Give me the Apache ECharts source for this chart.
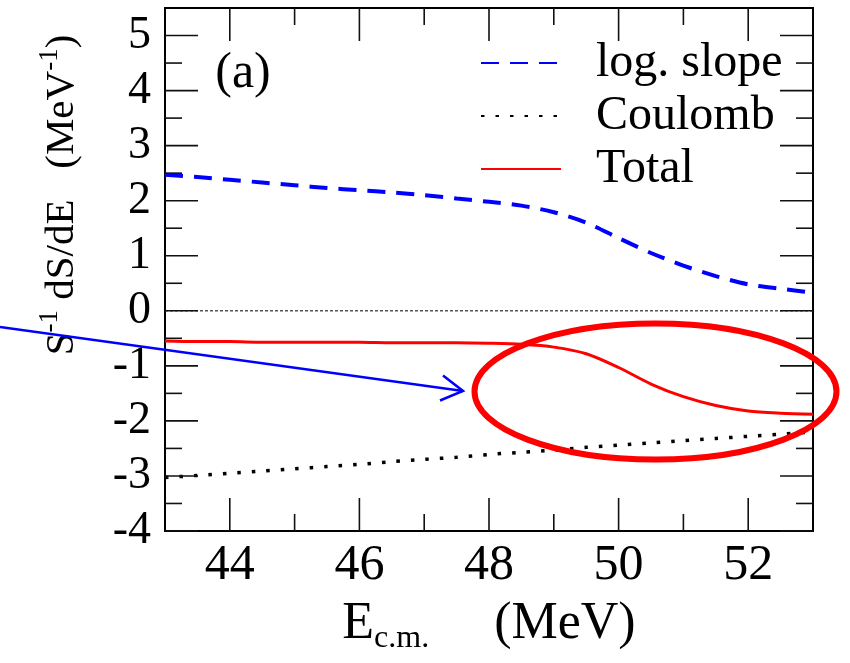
<!DOCTYPE html>
<html>
<head>
<meta charset="utf-8">
<script src="https://cdn.jsdelivr.net/npm/echarts@6/dist/echarts.min.js"></script>
<style>
  html, body { margin: 0; padding: 0; background: #fff; }
  #chart { width: 850px; height: 663px; }
</style>
</head>
<body>
<div id="chart"></div>
<script>
// Centre-of-mass energy grid (MeV)
const energy = [43, 43.5, 44, 44.5, 45, 45.5, 46, 46.5, 47, 47.5, 48,
                48.5, 49, 49.5, 50, 50.5, 51, 51.5, 52, 52.5, 53];
// S^-1 dS/dE contributions (MeV^-1)
const logSlope = [2.47, 2.43, 2.38, 2.33, 2.28, 2.23, 2.19, 2.15, 2.10, 2.04, 1.98,
                  1.91, 1.79, 1.60, 1.32, 1.05, 0.82, 0.63, 0.48, 0.40, 0.33];
const coulomb = [-3.03, -2.99, -2.95, -2.91, -2.87, -2.83, -2.79, -2.74, -2.70, -2.66, -2.61,
                 -2.57, -2.53, -2.48, -2.44, -2.40, -2.36, -2.32, -2.28, -2.24, -2.20];
const total = [-0.55, -0.56, -0.56, -0.57, -0.57, -0.57, -0.57, -0.58, -0.58, -0.58, -0.59,
               -0.61, -0.66, -0.78, -1.03, -1.33, -1.56, -1.72, -1.82, -1.86, -1.88];
// Zero reference line
const zeroEnergy = [43, 53];
const zeroValue = [0, 0];

// Tick positions
const xMajorTicks = [44, 46, 48, 50, 52];
const xMinorTicks = [45, 47, 49, 51];
const yMajorTicks = [-4, -3, -2, -1, 0, 1, 2, 3, 4, 5];
const yMinorTicks = [-3.5, -2.5, -1.5, -0.5, 0.5, 1.5, 2.5, 3.5, 4.5];

(function () {
  const X_MIN = 43, X_MAX = 53, Y_MIN = -4, Y_MAX = 5.5;
  const FONT = 'Liberation Serif';
  const pairs = (xs, ys) => xs.map((x, i) => [x, ys[i]]);

  const chart = echarts.init(document.getElementById('chart'));
  chart.setOption({
    animation: false,
    grid: { left: 165, right: 37, top: 8, bottom: 132, show: true,
            borderColor: '#000', borderWidth: 2 },
    xAxis: {
      type: 'value', min: X_MIN, max: X_MAX, interval: 1,
      axisLine: { show: false, onZero: false }, splitLine: { show: false },
      axisTick: { show: false }, axisLabel: { show: false },
      name: '{e|E}{s|c.m.}{e|     (MeV)}',
      nameLocation: 'middle', nameGap: 62,
      nameTextStyle: {
        rich: {
          e: { fontFamily: FONT, fontSize: 52, lineHeight: 62, color: '#000' },
          s: { fontFamily: FONT, fontSize: 32, lineHeight: 30, verticalAlign: 'bottom', color: '#000' }
        }
      }
    },
    yAxis: {
      type: 'value', min: Y_MIN, max: Y_MAX, interval: 0.5,
      axisLine: { show: false, onZero: false }, splitLine: { show: false },
      axisTick: { show: false }, axisLabel: { show: false }
    },
    legend: {
      data: ['log. slope', 'Coulomb', 'Total'],
      orient: 'vertical', left: 475, top: 33,
      itemWidth: 80, itemHeight: 14, itemGap: 3,
      itemStyle: { opacity: 0 },
      textStyle: { fontFamily: FONT, fontSize: 48, color: '#000',
                   lineHeight: 50, padding: [0, 0, 0, 30] }
    },
    series: [
      {
        name: 'zero', type: 'line', data: pairs(zeroEnergy, zeroValue), symbol: 'none',
        lineStyle: { color: '#555', width: 1.5, type: [3, 2] }
      },
      {
        name: 'log. slope', type: 'line', data: pairs(energy, logSlope),
        symbol: 'none', smooth: 0.3,
        lineStyle: { color: '#0000ff', width: 4, type: [18, 11] }
      },
      {
        name: 'Coulomb', type: 'line', data: pairs(energy, coulomb),
        symbol: 'none', smooth: 0.3,
        lineStyle: { color: '#000000', width: 3.5, type: [3.5, 11] }
      },
      {
        name: 'Total', type: 'line', data: pairs(energy, total),
        symbol: 'none', smooth: 0.3,
        lineStyle: { color: '#ff0000', width: 3 }
      }
    ]
  });

  // Inside ticks on all four frame sides plus tick labels, placed through the axis scales
  const px = v => chart.convertToPixel({ xAxisIndex: 0 }, v);
  const py = v => chart.convertToPixel({ yAxisIndex: 0 }, v);
  const frameLeft = px(X_MIN), frameRight = px(X_MAX);
  const frameBottom = py(Y_MIN), frameTop = py(Y_MAX);
  const tickStyle = { stroke: '#111', lineWidth: 1.6 };
  const deco = [];
  function tick(x1, y1, x2, y2) {
    deco.push({ type: 'line', z: 5, shape: { x1: x1, y1: y1, x2: x2, y2: y2 }, style: tickStyle });
  }
  xMajorTicks.forEach(v => { const x = px(v); tick(x, frameBottom, x, frameBottom - 33); tick(x, frameTop, x, frameTop + 33); });
  xMinorTicks.forEach(v => { const x = px(v); tick(x, frameBottom, x, frameBottom - 17); tick(x, frameTop, x, frameTop + 17); });
  yMajorTicks.forEach(v => { const y = py(v); tick(frameLeft, y, frameLeft + 33, y); tick(frameRight, y, frameRight - 33, y); });
  yMinorTicks.forEach(v => { const y = py(v); tick(frameLeft, y, frameLeft + 17, y); tick(frameRight, y, frameRight - 17, y); });
  xMajorTicks.forEach(v => deco.push({
    type: 'text', z: 5, x: px(v), y: frameBottom + 10,
    style: { text: String(v), fontFamily: FONT, fontSize: 50, fill: '#000',
             align: 'center', verticalAlign: 'top' }
  }));
  yMajorTicks.forEach(v => deco.push({
    type: 'text', z: 5, x: frameLeft - 14, y: py(v),
    style: { text: String(v), fontFamily: FONT, fontSize: 46, fill: '#000',
             align: 'right', verticalAlign: 'middle' }
  }));

  // Panel tag, rotated axis title and the highlight annotations
  deco.push(
    {
      type: 'text', x: 243, y: 74, z: 10,
      style: { text: '(a)', fontFamily: FONT, fontSize: 50, fill: '#000',
               align: 'center', verticalAlign: 'middle' }
    },
    {
      type: 'text', x: 62, y: 195, rotation: Math.PI / 2, z: 10,
      style: {
        text: '{m|S}{u|-1}{m| dS/dE   (MeV}{u|-1}{m|)}',
        align: 'center', verticalAlign: 'middle',
        rich: {
          m: { fontFamily: FONT, fontSize: 41, lineHeight: 52, fill: '#000' },
          u: { fontFamily: FONT, fontSize: 27, lineHeight: 28, verticalAlign: 'top', fill: '#000' }
        }
      }
    },
    {
      type: 'ellipse', z: 20,
      shape: { cx: 655.5, cy: 391.5, rx: 181, ry: 68 },
      style: { fill: 'none', stroke: '#ff0000', lineWidth: 6 }
    },
    {
      type: 'line', z: 20,
      shape: { x1: 0, y1: 327, x2: 463, y2: 391 },
      style: { stroke: '#0000ff', lineWidth: 2.5 }
    },
    {
      type: 'polyline', z: 20,
      shape: { points: [[443, 375.5], [463, 391], [440, 400.5]] },
      style: { stroke: '#0000ff', lineWidth: 2.5, fill: 'none' }
    }
  );
  chart.setOption({ graphic: deco });
})();
</script>
</body>
</html>
